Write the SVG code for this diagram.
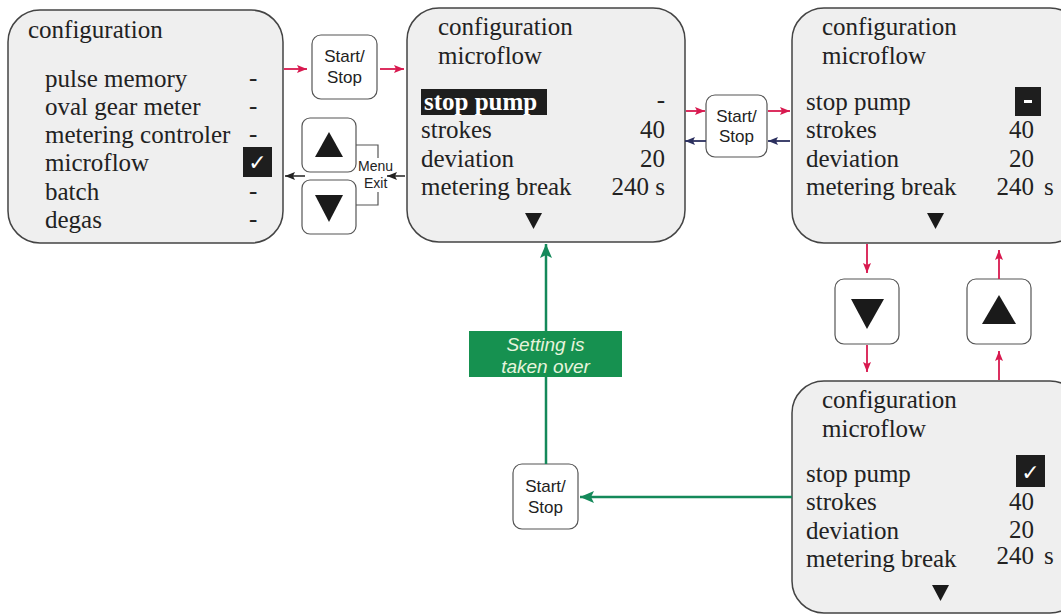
<svg xmlns="http://www.w3.org/2000/svg" width="1061" height="615" viewBox="0 0 1061 615">
<defs>
<marker id="ar" viewBox="0 0 10 8" refX="10" refY="4" markerWidth="10" markerHeight="8" markerUnits="userSpaceOnUse" orient="auto"><path d="M0,0 L10,4 L0,8 L2,4 Z" fill="#d8194f"/></marker>
<marker id="an" viewBox="0 0 10 8" refX="10" refY="4" markerWidth="10" markerHeight="8" markerUnits="userSpaceOnUse" orient="auto"><path d="M0,0 L10,4 L0,8 L2,4 Z" fill="#2b2f5e"/></marker>
<marker id="ak" viewBox="0 0 10 8" refX="10" refY="4" markerWidth="10" markerHeight="8" markerUnits="userSpaceOnUse" orient="auto"><path d="M0,0 L10,4 L0,8 L2,4 Z" fill="#222"/></marker>
<marker id="ag" viewBox="0 0 14 12" refX="14" refY="6" markerWidth="14" markerHeight="12" markerUnits="userSpaceOnUse" orient="auto"><path d="M0,0 L14,6 L0,12 L3,6 Z" fill="#14895a"/></marker>
</defs>
<style>
.scr{fill:#efefef;stroke:#444;stroke-width:1.5}
.t{font-family:"Liberation Serif","Times New Roman",serif;font-size:25px;fill:#222}
.v{font-family:"Liberation Serif","Times New Roman",serif;font-size:25px;fill:#222;text-anchor:end}
.btn{fill:#fff;stroke:#555;stroke-width:1.2}
.bt{font-family:"Liberation Sans",Arial,sans-serif;font-size:17px;fill:#222;text-anchor:middle}
.sm{font-family:"Liberation Sans",Arial,sans-serif;font-size:14px;fill:#222}
.red{stroke:#d8194f;stroke-width:1.8;fill:none;marker-end:url(#ar)}
.nav{stroke:#2b2f5e;stroke-width:1.8;fill:none;marker-end:url(#an)}
.blk{stroke:#222;stroke-width:1.5;fill:none;marker-end:url(#ak)}
.grn{stroke:#14895a;stroke-width:2.5;fill:none;marker-end:url(#ag)}
.ck{font-family:"DejaVu Sans",sans-serif;font-size:22px;fill:#fff;text-anchor:middle}
.tri{fill:#1a1a1a}
</style>

<g id="screen-configuration">
<rect class="scr" x="8" y="10" width="275" height="233" rx="32"/>
<text class="t" x="28" y="38">configuration</text>
<text class="t" x="45" y="87">pulse memory</text>
<text class="t" x="45" y="115">oval gear meter</text>
<text class="t" x="45" y="143">metering controler</text>
<text class="t" x="45" y="171">microflow</text>
<text class="t" x="45" y="200">batch</text>
<text class="t" x="45" y="228">degas</text>
<text class="t" x="249" y="86">-</text>
<text class="t" x="249" y="114">-</text>
<text class="t" x="249" y="142">-</text>
<rect x="243" y="147" width="29" height="30" fill="#1e1e1e"/>
<text class="ck" x="257.5" y="170">✓</text>
<text class="t" x="249" y="199">-</text>
<text class="t" x="249" y="227">-</text>
</g>

<g id="screen-microflow-1">
<rect class="scr" x="407" y="8" width="278" height="234" rx="32"/>
<text class="t" x="438" y="35">configuration</text>
<text class="t" x="438" y="64">microflow</text>
<rect x="421" y="89" width="126" height="26" fill="#1e1e1e"/>
<text class="t" x="424" y="110" font-weight="bold" style="fill:#fff">stop pump</text>
<text class="t" x="421" y="138">strokes</text>
<text class="t" x="421" y="167">deviation</text>
<text class="t" x="421" y="195">metering break</text>
<text class="v" x="665" y="108">-</text>
<text class="v" x="665" y="138">40</text>
<text class="v" x="665" y="167">20</text>
<text class="v" x="665" y="195">240 s</text>
<polygon class="tri" points="525,213 542,213 533.5,229"/>
</g>

<g id="screen-microflow-2">
<rect class="scr" x="792" y="8" width="290" height="235" rx="32"/>
<text class="t" x="822" y="35">configuration</text>
<text class="t" x="822" y="64">microflow</text>
<text class="t" x="806" y="110">stop pump</text>
<text class="t" x="806" y="138">strokes</text>
<text class="t" x="806" y="167">deviation</text>
<text class="t" x="806" y="195">metering break</text>
<rect x="1015" y="87" width="26" height="29" fill="#1e1e1e"/>
<rect x="1024" y="100" width="8" height="3" fill="#fff"/>
<text class="v" x="1034" y="138">40</text>
<text class="v" x="1034" y="167">20</text>
<text class="v" x="1034" y="195">240</text>
<text class="t" x="1044" y="195">s</text>
<polygon class="tri" points="927,213 944,213 935.5,229"/>
</g>

<g id="screen-microflow-3">
<rect class="scr" x="792" y="381" width="290" height="232" rx="32"/>
<text class="t" x="822" y="408">configuration</text>
<text class="t" x="822" y="437">microflow</text>
<text class="t" x="806" y="482">stop pump</text>
<text class="t" x="806" y="510">strokes</text>
<text class="t" x="806" y="539">deviation</text>
<text class="t" x="806" y="567">metering break</text>
<rect x="1016" y="455" width="29" height="32" fill="#1e1e1e"/>
<text class="ck" x="1030.5" y="480">✓</text>
<text class="v" x="1034" y="510">40</text>
<text class="v" x="1034" y="538">20</text>
<text class="v" x="1034" y="564">240</text>
<text class="t" x="1044" y="564">s</text>
<polygon class="tri" points="932,585 949,585 940.5,601"/>
</g>

<g id="btn-startstop-1">
<rect class="btn" x="312" y="35" width="65" height="64" rx="9"/>
<text class="bt" x="344.5" y="62">Start/</text>
<text class="bt" x="344.5" y="83">Stop</text>
</g>

<g id="btn-up-left">
<rect class="btn" x="302" y="118" width="54" height="54" rx="8"/>
<polygon class="tri" points="315,157 343,157 329,132"/>
</g>

<g id="btn-down-left">
<rect class="btn" x="302" y="180" width="54" height="54" rx="8"/>
<polygon class="tri" points="315,195 343,195 329,222"/>
</g>

<g id="menu-exit">
<path d="M356,145 H378 V205 H356" fill="none" stroke="#555" stroke-width="1.2"/>
<rect x="357" y="158" width="38" height="34" fill="#fff"/>
<text class="sm" x="358" y="171">Menu</text>
<text class="sm" x="364" y="188">Exit</text>
</g>

<g id="btn-startstop-2">
<rect class="btn" x="706" y="95" width="61" height="62" rx="9"/>
<text class="bt" x="736.5" y="122">Start/</text>
<text class="bt" x="736.5" y="142">Stop</text>
</g>

<g id="btn-down-right">
<rect class="btn" x="835" y="279" width="64" height="65" rx="9"/>
<polygon class="tri" points="851,299 884,299 867,329"/>
</g>

<g id="btn-up-right">
<rect class="btn" x="967" y="279" width="64" height="65" rx="9"/>
<polygon class="tri" points="982,324 1016,324 999,295"/>
</g>

<g id="btn-startstop-3">
<rect class="btn" x="513" y="464" width="65" height="65" rx="9"/>
<text class="bt" x="545.5" y="492">Start/</text>
<text class="bt" x="545.5" y="513">Stop</text>
</g>

<g id="connectors">
<line class="red" x1="284" y1="69" x2="307" y2="69"/>
<line class="red" x1="380" y1="69" x2="404" y2="69"/>
<line class="blk" x1="405" y1="176" x2="387" y2="176"/>
<line class="blk" x1="305" y1="176" x2="285" y2="176"/>
<line class="red" x1="686" y1="111" x2="705" y2="111"/>
<line class="red" x1="768" y1="111" x2="790" y2="111"/>
<line class="nav" x1="790" y1="141" x2="768" y2="141"/>
<line class="nav" x1="706" y1="141" x2="685" y2="141"/>
<line class="red" x1="867" y1="244" x2="867" y2="273"/>
<line class="red" x1="867" y1="345" x2="867" y2="372"/>
<line class="red" x1="999" y1="279" x2="999" y2="250"/>
<line class="red" x1="999" y1="380" x2="999" y2="351"/>
<line class="grn" x1="546" y1="464" x2="546" y2="244"/>
<line class="grn" x1="792" y1="497" x2="580" y2="497"/>
</g>

<g id="label-setting">
<rect x="469" y="331" width="153" height="46" fill="#169150"/>
<text x="545.5" y="351" font-family="Liberation Sans,Arial,sans-serif" font-size="19" font-style="italic" fill="#e6f4dc" text-anchor="middle">Setting is</text>
<text x="545.5" y="373" font-family="Liberation Sans,Arial,sans-serif" font-size="19" font-style="italic" fill="#e6f4dc" text-anchor="middle">taken over</text>
</g>
</svg>
